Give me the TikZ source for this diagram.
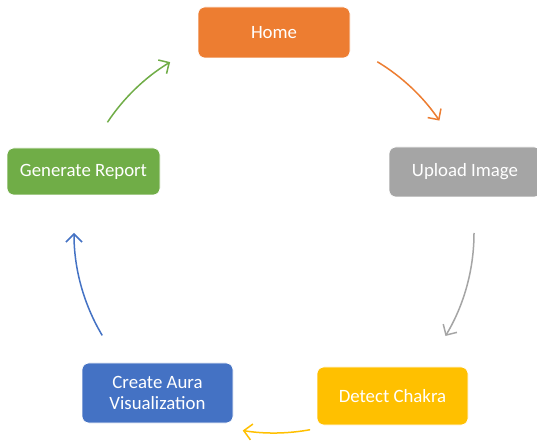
\documentclass[tikz,border=0pt]{standalone}
\usepackage{fontspec}
\setmainfont{Carlito}
\usetikzlibrary{arrows.meta}
\definecolor{cOrange}{HTML}{ED7D31}
\definecolor{cGray}{HTML}{A5A5A5}
\definecolor{cYellow}{HTML}{FFC000}
\definecolor{cBlue}{HTML}{4472C4}
\definecolor{cGreen}{HTML}{70AD47}
\tikzset{
  stepbox/.style={rounded corners=7pt, minimum width=152pt, minimum height=50pt,
    text=white, font=\fontsize{18.8}{21}\selectfont, align=center, inner sep=0pt, draw=white, line width=0.6pt},
  cyc/.style={line width=1.5pt, -{Straight Barb[length=8pt,width=16pt,line width=1.5pt]}}
}
\begin{document}
\begin{tikzpicture}[x=1pt,y=1pt]
\useasboundingbox (0,0) rectangle (537,441);
\fill[white] (0,0) rectangle (537,441);
\coordinate (O) at (274,208);
\node[stepbox, fill=cOrange, minimum height=51pt] (home) at (274,408.5) {Home};
\node[stepbox, fill=cGray] (upload) at (465,269) {Upload Image};
\node[stepbox, fill=cYellow, minimum width=151pt, minimum height=58pt] (detect) at (392.5,45) {Detect Chakra};
\node[stepbox, fill=cBlue, minimum width=151pt, minimum height=60pt] (create) at (157.5,48) {Create Aura\\Visualization};
\node[stepbox, fill=cGreen, minimum width=153pt, minimum height=47pt] (report) at (83.5,269.5) {Generate Report};
\draw[cyc, cOrange] (O) ++(58.9:200pt) arc[start angle=58.9, end angle=34.2, radius=200pt];
\draw[cyc, cGray] (O) ++(0:200pt) arc[start angle=0, end angle=-31, radius=200pt];
\draw[cyc, cYellow] (O) ++(-79.6:200pt) arc[start angle=-79.6, end angle=-99, radius=200pt];
\draw[cyc, cBlue] (O) ++(210.8:200pt) arc[start angle=210.8, end angle=180, radius=200pt];
\draw[cyc, cGreen] (O) ++(146.4:200pt) arc[start angle=146.4, end angle=121.3, radius=200pt];
\end{tikzpicture}
\end{document}
